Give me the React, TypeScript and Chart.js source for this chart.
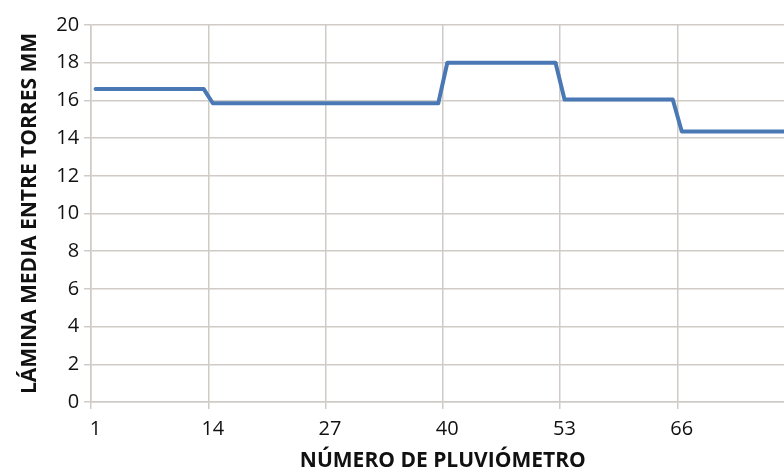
import React, { useEffect, useRef } from "react";
import { Chart, registerables } from "chart.js";

Chart.register(...registerables);

const pluviometros = [
  "1","2","3","4","5","6","7","8","9","10","11","12","13",
  "14","15","16","17","18","19","20","21","22","23","24","25","26",
  "27","28","29","30","31","32","33","34","35","36","37","38","39",
  "40","41","42","43","44","45","46","47","48","49","50","51","52",
  "53","54","55","56","57","58","59","60","61","62","63","64","65",
  "66","67","68","69","70","71","72","73","74","75","76","77","78",
];

const laminaMedia = [
  16.6,16.6,16.6,16.6,16.6,16.6,16.6,16.6,16.6,16.6,16.6,16.6,16.6,
  15.85,15.85,15.85,15.85,15.85,15.85,15.85,15.85,15.85,15.85,15.85,15.85,15.85,
  15.85,15.85,15.85,15.85,15.85,15.85,15.85,15.85,15.85,15.85,15.85,15.85,15.85,
  18.0,18.0,18.0,18.0,18.0,18.0,18.0,18.0,18.0,18.0,18.0,18.0,18.0,
  16.05,16.05,16.05,16.05,16.05,16.05,16.05,16.05,16.05,16.05,16.05,16.05,16.05,
  14.35,14.35,14.35,14.35,14.35,14.35,14.35,14.35,14.35,14.35,14.35,14.35,14.35,
];

const xTickLabels = ["1", "14", "27", "40", "53", "66"];
const yTicks = [0, 2, 4, 6, 8, 10, 12, 14, 16, 18, 20];

const xTitle = "NÚMERO DE PLUVIÓMETRO";
const yTitle = "LÁMINA MEDIA ENTRE TORRES MM";

const gridColor = "#d0cbc6";
const lineColor = "#4a78b5";
const FONT = "'Open Sans', 'DejaVu Sans', sans-serif";

export default function App() {
  const ref = useRef<HTMLCanvasElement | null>(null);

  useEffect(() => {
    if (!ref.current) return;
    const chart = new Chart(ref.current, {
      type: "line",
      data: {
        labels: pluviometros,
        datasets: [
          {
            data: laminaMedia,
            borderColor: lineColor,
            borderWidth: 4,
            pointRadius: 0,
            tension: 0,
            borderJoinStyle: "round",
            borderCapStyle: "round",
            fill: false,
          },
        ],
      },
      options: {
        animation: false,
        responsive: true,
        maintainAspectRatio: false,
        layout: { padding: { left: 0, right: 0, top: 25, bottom: 0 } },
        plugins: { legend: { display: false }, tooltip: { enabled: false } },
        scales: {
          x: {
            type: "category",
            offset: true,
            grid: {
              offset: true,
              lineWidth: 1.5,
              tickLength: 7,
              color: (ctx: any) =>
                xTickLabels.includes(pluviometros[ctx.index]) ? gridColor : "rgba(0,0,0,0)",
            },
            border: { color: gridColor, width: 1.5 },
            ticks: {
              autoSkip: false,
              maxRotation: 0,
              minRotation: 0,
              padding: 9,
              color: "#111",
              font: { family: FONT, size: 20, lineHeight: 1.15 },
              callback: (_v: any, i: number) =>
                xTickLabels.includes(pluviometros[i]) ? pluviometros[i] : "",
            },
            title: {
              display: true,
              text: xTitle,
              color: "#111",
              font: { family: FONT, size: 21, weight: "bold", lineHeight: 1.0 },
              padding: { top: 1, bottom: 0 },
            },
          },
          y: {
            min: 0,
            max: 20,
            afterBuildTicks: (axis: any) => {
              axis.ticks = yTicks.map((v) => ({ value: v }));
            },
            grid: { color: gridColor, lineWidth: 1.5, tickLength: 7 },
            border: { color: gridColor, width: 1.5 },
            ticks: {
              padding: 5,
              color: "#111",
              font: { family: FONT, size: 20 },
            },
            title: {
              display: true,
              text: yTitle,
              color: "#111",
              font: { family: FONT, size: 21, weight: "bold", lineHeight: 1.0 },
              padding: { top: 19.5, bottom: 10.7 },
            },
          },
        },
      },
    });
    return () => chart.destroy();
  }, []);

  return (
    <div
      style={{
        position: "fixed",
        left: 0,
        top: 0,
        width: 784,
        height: 472,
        overflow: "hidden",
        background: "#fff",
      }}
    >
      <div style={{ position: "relative", width: 799, height: 472 }}>
        <canvas ref={ref} />
      </div>
    </div>
  );
}
